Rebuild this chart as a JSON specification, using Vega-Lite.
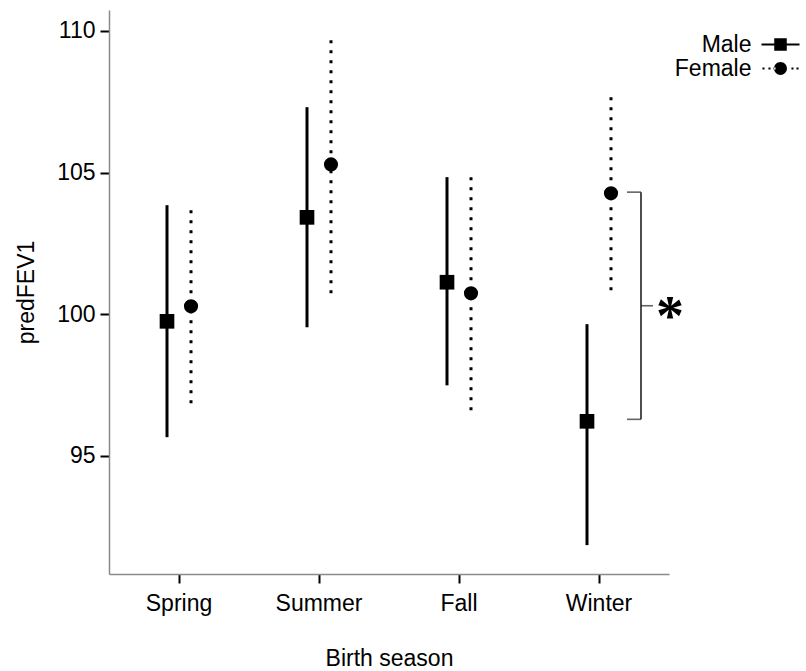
{
  "$schema": "https://vega.github.io/schema/vega-lite/v6.json",
  "width": 560,
  "height": 564,
  "autosize": "none",
  "padding": {"left": 109, "top": 10, "right": 137, "bottom": 97},
  "background": "white",
  "config": {
    "view": {"stroke": null},
    "font": "Liberation Sans",
    "axis": {
      "grid": false,
      "tickColor": "black",
      "tickWidth": 2,
      "tickSize": 9,
      "domainColor": "#8a8a8a",
      "domainWidth": 1.5,
      "labelFontSize": 23,
      "labelColor": "black",
      "labelFont": "Liberation Sans",
      "titleFont": "Liberation Sans",
      "titleFontSize": 23,
      "titleFontWeight": "normal",
      "titleColor": "black"
    }
  },
  "datasets": {
    "means": [
      {"season": "Spring", "sex": "Male", "mean": 99.75, "lo": 95.66, "hi": 103.85},
      {"season": "Spring", "sex": "Female", "mean": 100.28, "lo": 96.86, "hi": 103.78},
      {"season": "Summer", "sex": "Male", "mean": 103.42, "lo": 99.54, "hi": 107.31},
      {"season": "Summer", "sex": "Female", "mean": 105.29, "lo": 100.74, "hi": 109.81},
      {"season": "Fall", "sex": "Male", "mean": 101.13, "lo": 97.49, "hi": 104.84},
      {"season": "Fall", "sex": "Female", "mean": 100.74, "lo": 96.61, "hi": 104.94},
      {"season": "Winter", "sex": "Male", "mean": 96.22, "lo": 91.85, "hi": 99.65},
      {"season": "Winter", "sex": "Female", "mean": 104.27, "lo": 100.85, "hi": 107.77}
    ],
    "bracket": [
      {"season": "Winter", "top": 104.31, "bottom": 96.29, "mid": 100.3, "label": "*"}
    ]
  },
  "layer": [
    {
      "data": {"name": "means"},
      "transform": [{"filter": "datum.sex === 'Male'"}],
      "mark": {"type": "rule", "strokeWidth": 3, "color": "black", "strokeCap": "butt"},
      "encoding": {
        "x": {
          "field": "season", "type": "nominal", "title": "Birth season",
          "scale": {"type": "band", "domain": ["Spring", "Summer", "Fall", "Winter"], "paddingInner": 0, "paddingOuter": 0},
          "axis": {"labelAngle": 0, "labelPadding": 9, "titlePadding": 32}
        },
        "xOffset": {
          "field": "sex", "type": "nominal",
          "scale": {"domain": ["Male", "Female"], "range": [46, 94], "paddingInner": 0, "paddingOuter": 0}
        },
        "y": {
          "field": "lo", "type": "quantitative", "title": "predFEV1",
          "scale": {"domain": [90.83, 110.74], "nice": false, "zero": false},
          "axis": {"values": [95, 100, 105, 110], "labelPadding": 5, "titlePadding": 18}
        },
        "y2": {"field": "hi"}
      }
    },
    {
      "data": {"name": "means"},
      "transform": [{"filter": "datum.sex === 'Female'"}],
      "mark": {"type": "rule", "strokeWidth": 3, "color": "black", "strokeCap": "butt", "strokeDash": [3, 7]},
      "encoding": {
        "x": {
          "field": "season", "type": "nominal", "title": "Birth season",
          "scale": {"type": "band", "domain": ["Spring", "Summer", "Fall", "Winter"], "paddingInner": 0, "paddingOuter": 0}
        },
        "xOffset": {
          "field": "sex", "type": "nominal",
          "scale": {"domain": ["Male", "Female"], "range": [46, 94], "paddingInner": 0, "paddingOuter": 0}
        },
        "y": {"field": "lo", "type": "quantitative", "title": "predFEV1"},
        "y2": {"field": "hi"}
      }
    },
    {
      "data": {"name": "means"},
      "transform": [{"filter": "datum.sex === 'Male'"}],
      "mark": {"type": "point", "shape": "square", "filled": true, "color": "black", "opacity": 1, "size": 215},
      "encoding": {
        "x": {
          "field": "season", "type": "nominal", "title": "Birth season",
          "scale": {"type": "band", "domain": ["Spring", "Summer", "Fall", "Winter"], "paddingInner": 0, "paddingOuter": 0}
        },
        "xOffset": {
          "field": "sex", "type": "nominal",
          "scale": {"domain": ["Male", "Female"], "range": [46, 94], "paddingInner": 0, "paddingOuter": 0}
        },
        "y": {"field": "mean", "type": "quantitative", "title": "predFEV1"}
      }
    },
    {
      "data": {"name": "means"},
      "transform": [{"filter": "datum.sex === 'Female'"}],
      "mark": {"type": "point", "shape": "circle", "filled": true, "color": "black", "opacity": 1, "size": 200},
      "encoding": {
        "x": {
          "field": "season", "type": "nominal", "title": "Birth season",
          "scale": {"type": "band", "domain": ["Spring", "Summer", "Fall", "Winter"], "paddingInner": 0, "paddingOuter": 0}
        },
        "xOffset": {
          "field": "sex", "type": "nominal",
          "scale": {"domain": ["Male", "Female"], "range": [46, 94], "paddingInner": 0, "paddingOuter": 0}
        },
        "y": {"field": "mean", "type": "quantitative", "title": "predFEV1"}
      }
    },
    {
      "data": {"name": "means"},
      "mark": {"type": "point", "filled": true, "color": "black", "opacity": 1, "size": 0},
      "encoding": {
        "x": {
          "field": "season", "type": "nominal", "title": "Birth season",
          "scale": {"type": "band", "domain": ["Spring", "Summer", "Fall", "Winter"], "paddingInner": 0, "paddingOuter": 0}
        },
        "xOffset": {
          "field": "sex", "type": "nominal",
          "scale": {"domain": ["Male", "Female"], "range": [46, 94], "paddingInner": 0, "paddingOuter": 0}
        },
        "y": {"field": "mean", "type": "quantitative", "title": "predFEV1"},
        "shape": {
          "field": "sex", "type": "nominal",
          "scale": {
            "domain": ["Male", "Female"],
            "range": [
              "M-2,-0.1H2V0.1H-2ZM-0.66,-0.66H0.66V0.66H-0.66Z",
              "M-1.9,-0.11h0.22v0.22h-0.22ZM-1.27,-0.11h0.22v0.22h-0.22ZM-0.74,-0.11h0.22v0.22h-0.22ZM1.15,-0.11h0.22v0.22h-0.22ZM1.68,-0.11h0.22v0.22h-0.22ZM-0.68,0A0.68,0.68 0 1,0 0.68,0A0.68,0.68 0 1,0 -0.68,0Z"
            ]
          },
          "legend": {
            "orient": "none",
            "legendX": 660,
            "legendY": 23,
            "title": null,
            "padding": 0,
            "rowPadding": -6,
            "symbolSize": 361,
            "symbolOpacity": 1,
            "symbolStrokeWidth": 0,
            "symbolFillColor": "black",
            "labelAlign": "right",
            "labelOffset": -40.5,
            "labelFontSize": 23,
            "labelFont": "Liberation Sans",
            "labelColor": "black"
          }
        }
      }
    },
    {
      "data": {"name": "bracket"},
      "mark": {"type": "rule", "xOffset": 42, "strokeWidth": 1.6, "color": "#222222"},
      "encoding": {
        "x": {"field": "season", "type": "nominal", "title": "Birth season", "scale": {"type": "band", "domain": ["Spring", "Summer", "Fall", "Winter"], "paddingInner": 0, "paddingOuter": 0}},
        "y": {"field": "top", "type": "quantitative", "title": "predFEV1"},
        "y2": {"field": "bottom"}
      }
    },
    {
      "data": {"name": "bracket"},
      "mark": {"type": "tick", "xOffset": 35, "size": 14, "thickness": 1.6, "color": "#222222", "orient": "horizontal"},
      "encoding": {
        "x": {"field": "season", "type": "nominal", "title": "Birth season", "scale": {"type": "band", "domain": ["Spring", "Summer", "Fall", "Winter"], "paddingInner": 0, "paddingOuter": 0}},
        "y": {"field": "top", "type": "quantitative", "title": "predFEV1"}
      }
    },
    {
      "data": {"name": "bracket"},
      "mark": {"type": "tick", "xOffset": 35, "size": 14, "thickness": 1.6, "color": "#222222", "orient": "horizontal"},
      "encoding": {
        "x": {"field": "season", "type": "nominal", "title": "Birth season", "scale": {"type": "band", "domain": ["Spring", "Summer", "Fall", "Winter"], "paddingInner": 0, "paddingOuter": 0}},
        "y": {"field": "bottom", "type": "quantitative", "title": "predFEV1"}
      }
    },
    {
      "data": {"name": "bracket"},
      "mark": {"type": "tick", "xOffset": 48, "size": 12, "thickness": 1.6, "color": "#222222", "orient": "horizontal"},
      "encoding": {
        "x": {"field": "season", "type": "nominal", "title": "Birth season", "scale": {"type": "band", "domain": ["Spring", "Summer", "Fall", "Winter"], "paddingInner": 0, "paddingOuter": 0}},
        "y": {"field": "mid", "type": "quantitative", "title": "predFEV1"}
      }
    },
    {
      "data": {"name": "bracket"},
      "mark": {"type": "text", "xOffset": 71, "dy": 29, "fontSize": 56, "fontWeight": "bold", "font": "Liberation Serif", "baseline": "alphabetic", "align": "center", "color": "black"},
      "encoding": {
        "x": {"field": "season", "type": "nominal", "title": "Birth season", "scale": {"type": "band", "domain": ["Spring", "Summer", "Fall", "Winter"], "paddingInner": 0, "paddingOuter": 0}},
        "y": {"field": "mid", "type": "quantitative", "title": "predFEV1"},
        "text": {"field": "label"}
      }
    }
  ]
}
